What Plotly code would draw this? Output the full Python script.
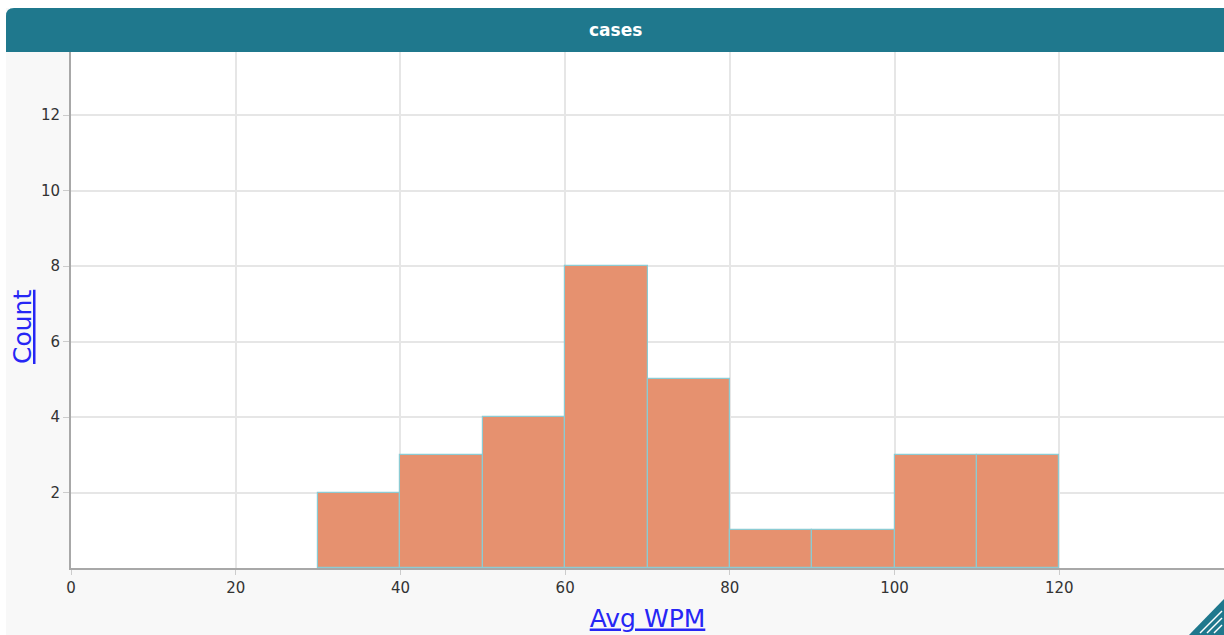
import plotly.graph_objects as go

# Data: histogram bins of Avg WPM (left edges) and counts
bin_left = [30, 40, 50, 60, 70, 80, 90, 100, 110]
bin_width = 10
counts = [2, 3, 4, 8, 5, 1, 1, 3, 3]
x_ticks = [0, 20, 40, 60, 80, 100, 120, 140]
y_ticks = [2, 4, 6, 8, 10, 12, 14]

W, H = 1224, 635
L, R, T, B = 71, 0, 52, 67
pw, ph = W - L - R, H - T - B

def px(x):
    return (x - L) / pw

def py(y):
    return (H - B - y) / ph

centers = [b + bin_width / 2 for b in bin_left]

fig = go.Figure()
fig.add_trace(go.Bar(
    x=centers, y=counts, width=[bin_width] * len(counts),
    marker=dict(color="#e6916f", line=dict(color="#8ccbd3", width=1.2)),
    hoverinfo="skip",
))

font_fam = "DejaVu Sans, sans-serif"
teal = "#1f788d"
link_blue = "#2626f5"

shapes = [
    # white strips left / top
    dict(type="rect", xref="paper", yref="paper", x0=px(-2), x1=px(6), y0=py(H + 2), y1=py(-2),
         fillcolor="white", line=dict(width=0), layer="below"),
    dict(type="rect", xref="paper", yref="paper", x0=px(-2), x1=px(W + 2), y0=py(8), y1=py(-2),
         fillcolor="white", line=dict(width=0), layer="below"),
    # title bar
    dict(type="path", xref="paper", yref="paper",
         path=f"M {px(6)},{py(52)} L {px(6)},{py(16)} Q {px(6)},{py(8)} {px(14)},{py(8)} "
              f"L {px(W + 2)},{py(8)} L {px(W + 2)},{py(52)} Z",
         fillcolor=teal, line=dict(width=0), layer="above"),
    # resize corner
    dict(type="path", xref="paper", yref="paper",
         path=f"M {px(1188)},{py(H + 1)} L {px(W + 1)},{py(598)} L {px(W + 1)},{py(H + 1)} Z",
         fillcolor=teal, line=dict(width=0), layer="above"),
]
for off in (10, 17, 24):
    shapes.append(dict(type="line", xref="paper", yref="paper",
                       x0=px(W - off), y0=py(H - 2), x1=px(W - 2), y1=py(H - off),
                       line=dict(color="white", width=1.5), layer="above"))

fig.update_layout(
    width=W, height=H,
    margin=dict(l=L, r=R, t=T, b=B),
    paper_bgcolor="#f8f8f8",
    plot_bgcolor="white",
    showlegend=False,
    bargap=0,
    font=dict(family=font_fam, color="#333333", size=15),
    shapes=shapes,
    annotations=[
        dict(text="<b>cases</b>", xref="paper", yref="paper", x=px(615), y=py(30),
             showarrow=False, font=dict(color="white", size=17, family=font_fam),
             xanchor="center", yanchor="middle"),
        dict(text="<u>Count</u>", xref="paper", yref="paper", x=px(22), y=py(327),
             showarrow=False, textangle=-90, font=dict(color=link_blue, size=25, family=font_fam),
             xanchor="center", yanchor="middle"),
    ],
    xaxis=dict(
        range=[0, 140], tickvals=x_ticks, ticktext=[str(v) for v in x_ticks],
        showgrid=True, gridcolor="#e6e6e6", gridwidth=1.5,
        showline=True, linecolor="#a8a8a8", linewidth=2,
        ticks="outside", ticklen=5, tickcolor="#cccccc",
        zeroline=False, tickfont=dict(size=15, color="#333333"),
        title=dict(text="<u>Avg WPM</u>", font=dict(size=25, color=link_blue, family=font_fam), standoff=13),
    ),
    yaxis=dict(
        range=[0, (H - B - T) / 37.75], tickvals=y_ticks, ticktext=[str(v) for v in y_ticks],
        showgrid=True, gridcolor="#e6e6e6", gridwidth=1.5,
        showline=True, linecolor="#a8a8a8", linewidth=2,
        ticks="outside", ticklen=6, tickcolor="#cccccc",
        zeroline=False, tickfont=dict(size=15, color="#333333"),
    ),
)

fig.write_html("out.html", config={"displayModeBar": False},
               post_script="document.body.style.margin='0';document.body.style.overflow='hidden';")
